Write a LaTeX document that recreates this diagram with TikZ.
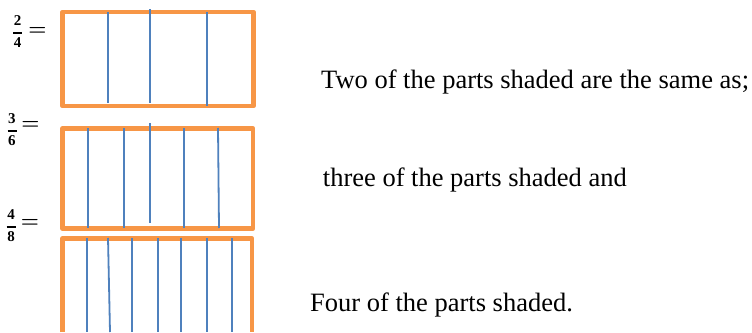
\documentclass[tikz,border=0pt]{standalone}
\usepackage{fontspec}
\setmainfont{Liberation Serif}
\definecolor{frameorange}{HTML}{F79646}
\definecolor{divblue}{HTML}{4F81BD}
\tikzset{
  frame/.style={draw=frameorange, line width=4.5pt, line join=round},
  divider/.style={draw=divblue, line width=1.8pt},
  caption/.style={anchor=base west, inner sep=0pt, font=\fontsize{26.5}{30}\selectfont},
  fracdigit/.style={inner sep=0pt, font=\fontsize{15}{17}\selectfont\bfseries},
  fracbar/.style={draw=black, line width=1.5pt},
  eqsign/.style={inner sep=0pt, font=\fontsize{20}{22}\selectfont\boldmath},
}
\begin{document}
\begin{tikzpicture}[x=1pt,y=-1pt]
\useasboundingbox[fill=white] (0,0) rectangle (752,332);

% rectangle 1 : 2/4
\draw[frame] (62.5,12) rectangle (253.5,106);
\draw[divider] (108,12) -- (108,103);
\draw[divider] (150,9) -- (150,103);
\draw[divider] (207,12) -- (207,106);

% rectangle 2 : 3/6
\draw[frame] (62.5,128.5) rectangle (253,228.5);
\draw[divider] (88,128) -- (88,228);
\draw[divider] (124,128) -- (124,228);
\draw[divider] (150,123) -- (150,222.7);
\draw[divider] (184,128) -- (184,228);
\draw[divider] (218,128) -- (219,228);

% rectangle 3 : 4/8 (cut off at bottom)
\draw[frame] (62.5,332) -- (62.5,238.5) -- (252,238.5) -- (252,332);
\draw[divider] (87,238) -- (87,332);
\draw[divider] (108,238) -- (110,332);
\draw[divider] (132,238) -- (132,332);
\draw[divider] (158,238) -- (158,332);
\draw[divider] (181,238) -- (181,332);
\draw[divider] (207,238) -- (207,332);
\draw[divider] (232,238) -- (232,332);

% fractions
\node[fracdigit] (n1) at (17.5,21) {2};
\node[fracdigit] (d1) at (17.5,43) {4};
\draw[fracbar] (13,33) -- (22,33);
\node[eqsign] (e1) at (37.5,31) {$=$};

\node[fracdigit] (n2) at (12,119) {3};
\node[fracdigit] (d2) at (12,141) {6};
\draw[fracbar] (7.5,131) -- (16.5,131);
\node[eqsign] (e2) at (30.5,125) {$=$};

\node[fracdigit] (n3) at (11,215) {4};
\node[fracdigit] (d3) at (11,237) {8};
\draw[fracbar] (6.5,227) -- (15.5,227);
\node[eqsign] (e3) at (30,223) {$=$};

% captions
\node[caption] (t1) at (321,88) {Two of the parts shaded are the same as;};
\node[caption] (t2) at (322.7,186) {three of the parts shaded and};
\node[caption] (t3) at (310,311.7) {Four of the parts shaded.};
\end{tikzpicture}
\end{document}
